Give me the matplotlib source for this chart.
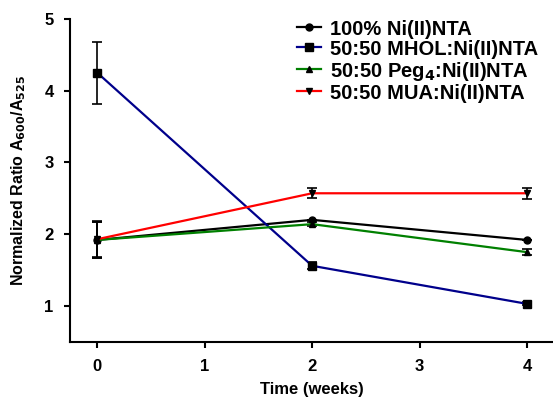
import matplotlib
matplotlib.use("Agg")
import matplotlib.pyplot as plt

plt.rcParams['font.family'] = ['Liberation Sans', 'DejaVu Sans']
plt.rcParams['font.weight'] = 'bold'
plt.rcParams['mathtext.default'] = 'bf'

# data
weeks = [0, 2, 4]
labels = ['100% Ni(II)NTA', '50:50 MHOL:Ni(II)NTA',
          '50:50 Peg$_4$:Ni(II)NTA', '50:50 MUA:Ni(II)NTA']
ni_nta = [1.92, 2.20, 1.92]
ni_nta_err = [0.25, 0.0, 0.0]
mhol = [4.25, 1.56, 1.03]
mhol_err = [0.43, 0.05, 0.02]
peg4 = [1.92, 2.14, 1.75]
peg4_err = [0.25, 0.03, 0.04]
mua = [1.93, 2.57, 2.57]
mua_err = [0.25, 0.07, 0.08]

series = [ni_nta, mhol, peg4, mua]
errors = [ni_nta_err, mhol_err, peg4_err, mua_err]
colors = ['black', '#00008B', '#008000', '#FF0000']
markers = ['o', 's', '^', 'v']
msizes = [5, 5.5, 5, 5]

fig = plt.figure(figsize=(5.53, 3.99), dpi=100)
ax = fig.add_axes([0.127, 0.143, 0.873, 0.81])

handles = []
for y, e, c, m, ms, lab in zip(series, errors, colors, markers, msizes, labels):
    cont = ax.errorbar(weeks, y, yerr=e, color=c, marker=m, ms=ms, mfc='black',
                       mec='black', lw=1.6, ecolor='black', elinewidth=1.2,
                       capsize=3.5, capthick=1.2, label=lab)
    handles.append(cont.lines[0])

ax.set_xlim(-0.25, 4.24)
ax.set_ylim(0.5, 5)
ax.set_xticks([0, 1, 2, 3, 4])
ax.set_yticks([1, 2, 3, 4, 5])
ax.spines['top'].set_visible(False)
ax.spines['right'].set_visible(False)
ax.spines['left'].set_linewidth(1.5)
ax.spines['bottom'].set_linewidth(1.5)
ax.tick_params(direction='out', width=1.5, length=4, labelsize=12, pad=8)

ax.set_xlabel('Time (weeks)', fontsize=12, fontweight='bold', labelpad=6)
ax.set_ylabel('Normalized Ratio A$_{600}$/A$_{525}$', fontsize=11.5,
              fontweight='bold', labelpad=12)

leg = ax.legend(handles, labels, loc='upper right', bbox_to_anchor=(0.995, 1.035),
                frameon=False, fontsize=14.5, handlelength=1.2,
                handletextpad=0.45, labelspacing=0.05, borderaxespad=0.2)
for t in leg.get_texts():
    t.set_fontweight('bold')

fig.savefig('out.png', dpi=100)
